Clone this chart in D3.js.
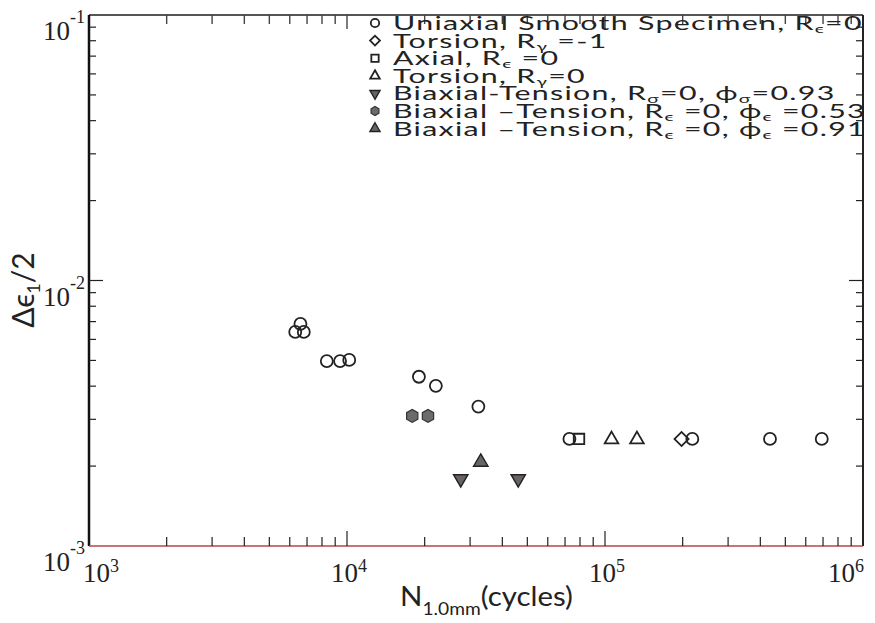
<!DOCTYPE html>
<html>
<head>
<meta charset="utf-8">
<script src="https://cdn.jsdelivr.net/npm/d3@7"></script>
<style>
  body { margin: 0; background: #fff; }
  svg { display: block; }
</style>
</head>
<body>
<div id="chart"></div>
<script>
// values (N in cycles, strain amplitude)
const uniaxialN   = [6300, 6600, 6800, 8350, 9400, 10200, 19000, 22100, 32300, 72800, 218000, 436000, 692000];
const uniaxialAmp = [0.0064, 0.00686, 0.0064, 0.00497, 0.00497, 0.00502, 0.00434, 0.00401, 0.00335, 0.00253, 0.00253, 0.00253, 0.00253];
const torsionM1N   = [198000];
const torsionM1Amp = [0.00253];
const axialN   = [79300];
const axialAmp = [0.00253];
const torsion0N   = [106000, 133000];
const torsion0Amp = [0.00252, 0.00252];
const biaxSigmaN   = [27600, 46100];
const biaxSigmaAmp = [0.00179, 0.00179];
const biax053N   = [17900, 20600];
const biax053Amp = [0.00309, 0.00309];
const biax091N   = [33000];
const biax091Amp = [0.00207];

const xTickExp = [3, 4, 5, 6];
const yTickExp = [-1, -2, -3];

// legend rows: [text, isSubscript] pieces
const legendRows = [
  [["Uniaxial Smooth Specimen, R", 0], ["\u03f5", 1], ["=0", 0]],
  [["Torsion, R", 0], ["\u03b3", 1], [" =-1", 0]],
  [["Axial, R", 0], ["\u03f5", 1], [" =0", 0]],
  [["Torsion, R", 0], ["\u03b3", 1], ["=0", 0]],
  [["Biaxial-Tension, R", 0], ["\u03c3", 1], ["=0, \u03d5", 0], ["\u03c3", 1], ["=0.93", 0]],
  [["Biaxial \u2013Tension, R", 0], ["\u03f5", 1], [" =0, \u03d5", 0], ["\u03f5", 1], [" =0.53", 0]],
  [["Biaxial \u2013Tension, R", 0], ["\u03f5", 1], [" =0, \u03d5", 0], ["\u03f5", 1], [" =0.91", 0]]
];
const legendShapes = ["circle", "diamond", "square", "triangle", "down", "hexagon", "filledTriangle"];

const W = 875, H = 623;
const margin = {top: 15, right: 12, bottom: 77, left: 89};

const svg = d3.select("#chart").append("svg")
  .attr("width", W).attr("height", H);

const x = d3.scaleLog().domain([1e3, 1e6]).range([margin.left, W - margin.right]);
const y = d3.scaleLog().domain([1e-3, 1e-1]).range([H - margin.bottom, margin.top]);

const x0 = x.range()[0], x1 = x.range()[1];
const y0 = y.range()[0], y1 = y.range()[1];

// frame
svg.append("line").attr("x1", x0).attr("x2", x1).attr("y1", y1).attr("y2", y1)
   .attr("stroke", "#555").attr("stroke-width", 2);
svg.append("line").attr("x1", x1).attr("x2", x1).attr("y1", y1).attr("y2", y0)
   .attr("stroke", "#222").attr("stroke-width", 2);
svg.append("line").attr("x1", x0).attr("x2", x0).attr("y1", y1).attr("y2", y0)
   .attr("stroke", "#111").attr("stroke-width", 2.5);
svg.append("line").attr("x1", x0).attr("x2", x1).attr("y1", y0).attr("y2", y0)
   .attr("stroke", "#b9454a").attr("stroke-width", 1.6);

const isMajor = v => Math.abs(Math.log10(v) - Math.round(Math.log10(v))) < 1e-9;

// x ticks, bottom and top, pointing inward
x.ticks().forEach(v => {
  if (v <= 1e3 || v >= 1e6) return;
  const len = isMajor(v) ? 15 : 9;
  svg.append("line").attr("x1", x(v)).attr("x2", x(v)).attr("y1", y0).attr("y2", y0 - len)
     .attr("stroke", "#222").attr("stroke-width", 1.2);
  svg.append("line").attr("x1", x(v)).attr("x2", x(v)).attr("y1", y1).attr("y2", y1 + (isMajor(v) ? 14 : 9))
     .attr("stroke", "#444").attr("stroke-width", 1.4);
});

// y ticks, left and right
y.ticks().forEach(v => {
  if (v <= 1e-3 || v >= 1e-1) return;
  const len = isMajor(v) ? 14 : 7;
  svg.append("line").attr("x1", x0).attr("x2", x0 + len).attr("y1", y(v)).attr("y2", y(v))
     .attr("stroke", "#222").attr("stroke-width", 1.2);
  svg.append("line").attr("x1", x1).attr("x2", x1 - len).attr("y1", y(v)).attr("y2", y(v))
     .attr("stroke", "#222").attr("stroke-width", 1.2);
});

const tickFont = "'Liberation Serif', 'DejaVu Serif', serif";

function powLabel(g, exp, xx, yy, anchor, supDy) {
  const t = g.append("text").attr("x", xx).attr("y", yy)
    .attr("text-anchor", anchor)
    .attr("font-family", tickFont).attr("font-size", 27).attr("fill", "#222");
  t.append("tspan").text("10");
  t.append("tspan").attr("dy", supDy).attr("font-size", 18).text(exp);
}

xTickExp.forEach((e, i) => {
  let anchor = "middle", xx = x(Math.pow(10, e)) + 2;
  if (i === 0) { anchor = "start"; xx = x(Math.pow(10, e)) - 6; }
  if (i === xTickExp.length - 1) { anchor = "end"; xx = x(Math.pow(10, e)) + 1; }
  powLabel(svg, String(e), xx, y0 + 36, anchor, -10);
});

yTickExp.forEach(e => {
  powLabel(svg, String(e), 85, y(Math.pow(10, e)) + 25, "end", -17);
});

// axis titles
const sansFont = "Lato, 'Noto Sans', sans-serif";
const xt = svg.append("text").attr("x", 0).attr("y", 0)
  .attr("font-family", sansFont).attr("font-size", 26).attr("fill", "#222");
xt.append("tspan").text("N");
xt.append("tspan").attr("dy", 9).attr("font-size", 17).text("1.0mm");
xt.append("tspan").attr("dy", -9).text("(cycles)");
const kx = 173 / xt.node().getComputedTextLength();
xt.attr("transform", `translate(400,606) scale(${kx},1)`);

const yt = svg.append("text").attr("transform", "translate(34,290) rotate(-90)")
  .attr("text-anchor", "middle")
  .attr("font-family", sansFont).attr("font-size", 30).attr("fill", "#222");
yt.append("tspan").text("\u0394\u03f5");
yt.append("tspan").attr("dy", 6).attr("font-size", 18).text("1");
yt.append("tspan").attr("dy", -6).text("/2");

// markers
const hexPath = r => d3.line()(d3.range(6).map(k => {
  const a = Math.PI / 6 + k * Math.PI / 3;
  return [r * Math.cos(a), r * Math.sin(a)];
})) + "Z";

function marker(g, shape, scale) {
  const s = scale || 1;
  if (shape === "circle") {
    return g.append("circle").attr("r", 6 * s).attr("fill", "none").attr("stroke", "#222").attr("stroke-width", 1.8);
  }
  if (shape === "square") {
    return g.append("path").attr("d", d3.symbol(d3.symbolSquare, 110 * s * s)())
      .attr("fill", "none").attr("stroke", "#222").attr("stroke-width", 1.8);
  }
  if (shape === "diamond") {
    return g.append("path").attr("d", d3.symbol(d3.symbolSquare, 100 * s * s)())
      .attr("transform", "rotate(45)")
      .attr("fill", "none").attr("stroke", "#222").attr("stroke-width", 1.8);
  }
  if (shape === "triangle") {
    return g.append("path").attr("d", d3.symbol(d3.symbolTriangle, 80 * s * s)())
      .attr("fill", "none").attr("stroke", "#222").attr("stroke-width", 1.8);
  }
  if (shape === "filledTriangle") {
    return g.append("path").attr("d", d3.symbol(d3.symbolTriangle, 90 * s * s)())
      .attr("fill", "#666").attr("stroke", "#222").attr("stroke-width", 1.4);
  }
  if (shape === "down") {
    return g.append("path").attr("d", d3.symbol(d3.symbolTriangle, 90 * s * s)())
      .attr("transform", "rotate(180)")
      .attr("fill", "#6a6262").attr("stroke", "#222").attr("stroke-width", 1.4);
  }
  if (shape === "hexagon") {
    return g.append("path").attr("d", hexPath(6.5 * s))
      .attr("fill", "#6b6b6b").attr("stroke", "#333").attr("stroke-width", 1.2);
  }
}

const series = [
  {shape: "circle", n: uniaxialN, a: uniaxialAmp},
  {shape: "diamond", n: torsionM1N, a: torsionM1Amp},
  {shape: "square", n: axialN, a: axialAmp},
  {shape: "triangle", n: torsion0N, a: torsion0Amp},
  {shape: "down", n: biaxSigmaN, a: biaxSigmaAmp},
  {shape: "hexagon", n: biax053N, a: biax053Amp},
  {shape: "filledTriangle", n: biax091N, a: biax091Amp}
];

series.forEach(s => {
  s.n.forEach((n, i) => {
    const g = svg.append("g").attr("transform", `translate(${x(n)},${y(s.a[i])})`);
    marker(g, s.shape, 1);
  });
});

// legend
const rowTexts = [];
legendRows.forEach((row, i) => {
  const base = 30 + i * 17.6;
  const mg = svg.append("g").attr("transform", `translate(375,${base - 7})`);
  marker(mg, legendShapes[i], 0.7);
  const t = svg.append("text").attr("x", 0).attr("y", 0)
    .attr("font-family", sansFont).attr("font-size", 19).attr("letter-spacing", 0.8)
    .attr("fill", "#222");
  let down = false;
  row.forEach(p => {
    const ts = t.append("tspan").text(p[0]);
    if (p[1] && !down) { ts.attr("dy", 3).attr("font-size", 12); down = true; }
    else if (p[1]) { ts.attr("font-size", 12); }
    else if (down) { ts.attr("dy", -3); down = false; }
  });
  rowTexts.push({t: t, base: base});
});
// stretch the legend text so the first row spans the width it has in the scan
const k = 470 / rowTexts[0].t.node().getComputedTextLength();
rowTexts.forEach(r => r.t.attr("transform", `translate(393,${r.base}) scale(${k},1)`));
</script>
</body>
</html>
